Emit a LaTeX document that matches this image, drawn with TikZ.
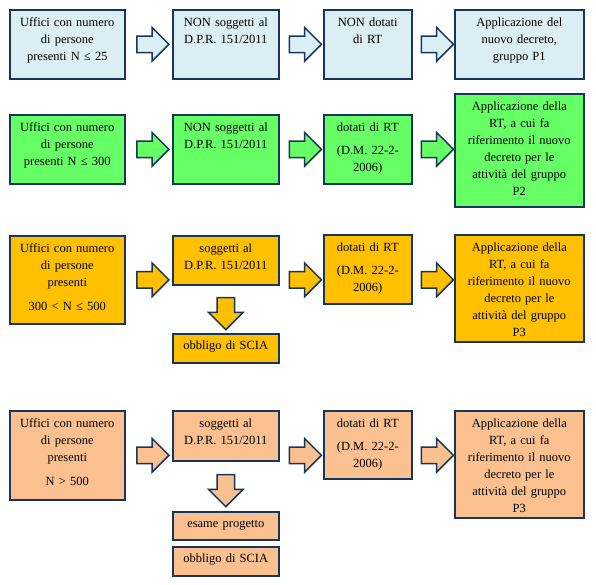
\documentclass[tikz,border=0pt]{standalone}
\usepackage{xcolor}
\usepackage{fontspec}
\setmainfont{Liberation Serif}
\usepackage{tikz}
\usetikzlibrary{calc,shapes.arrows}
\definecolor{navy}{HTML}{17365D}
\definecolor{blu}{HTML}{DBEEF4}
\definecolor{verde}{HTML}{66FF66}
\definecolor{oro}{HTML}{FFC000}
\definecolor{pesca}{HTML}{FAC090}
\tikzset{
	box/.style={
			draw=navy, line width=1.6pt, fill=#1, anchor=north west,
			align=center, inner sep=0pt, text height=16.5pt,
			font=\fontsize{12.5}{17}\selectfont
		},
	rarrow/.style={
			single arrow, draw=navy, line width=1.5pt, fill=#1,
			minimum height=32pt, inner xsep=0pt, inner ysep=7.5pt,
			single arrow head extend=8.5pt
		},
	darrow/.style={rarrow=#1, shape border rotate=270, inner xsep=8pt, inner ysep=0pt}
}

\begin{document}
\begin{tikzpicture}[x=1pt, y=-1pt]
			\useasboundingbox (0,0) rectangle (596,585);

			\node[box=blu, text width=115pt, text depth=52.5pt] (A1) at (9,9) {Uffici con numero\\ di persone\\ presenti N ≤ 25};
			\node[box=blu, text width=106pt, text depth=52.5pt] (B1) at (172,9) {NON soggetti al\\ D.P.R. 151/2011};
			\node[box=blu, text width=88pt, text depth=52.5pt] (C1) at (323,9) {NON dotati\\ di RT};
			\node[box=blu, text width=129pt, text depth=52.5pt] (D1) at (454,9) {Applicazione del\\ nuovo decreto,\\ gruppo P1};

			\node[box=verde, text width=115pt, text depth=52.5pt] (A2) at (9,114) {Uffici con numero\\ di persone\\ presenti N ≤ 300};
			\node[box=verde, text width=106pt, text depth=52.5pt] (B2) at (172,114) {NON soggetti al\\ D.P.R. 151/2011};
			\node[box=verde, text width=88pt, text depth=52.5pt] (C2) at (323,114) {dotati di RT\\[6pt] (D.M. 22-2-\\ 2006)};
			\node[box=verde, text width=129pt, text depth=96.5pt] (D2) at (454,93) {Applicazione della\\ RT, a cui fa\\ riferimento il nuovo\\ decreto per le\\ attività del gruppo\\ P2};

			\node[box=oro, text width=115pt, text depth=71.5pt] (A3) at (9,235) {Uffici con numero\\ di persone\\ presenti\\[7pt] 300 < N ≤ 500};
			\node[box=oro, text width=106pt, text depth=32.5pt] (B3) at (172,235) {soggetti al\\ D.P.R. 151/2011};
			\node[box=oro, text width=106pt, text height=16pt, text depth=13pt] (S3) at (172,333) {obbligo di SCIA};
			\node[box=oro, text width=88pt, text depth=52.5pt] (C3) at (323,234) {dotati di RT\\[6pt] (D.M. 22-2-\\ 2006)};
			\node[box=oro, text width=129pt, text depth=90.5pt] (D3) at (454,234) {Applicazione della\\ RT, a cui fa\\ riferimento il nuovo\\ decreto per le\\ attività del gruppo\\ P3};

			\node[box=pesca, text width=115pt, text depth=72.5pt] (A4) at (9,410) {Uffici con numero\\ di persone\\ presenti\\[7pt] N > 500};
			\node[box=pesca, text width=106pt, text depth=33.5pt] (B4) at (172,410) {soggetti al\\ D.P.R. 151/2011};
			\node[box=pesca, text width=106pt, text height=15.5pt, text depth=12.5pt] (E4) at (172,511) {esame progetto};
			\node[box=pesca, text width=106pt, text height=16pt, text depth=13pt] (S4) at (172,546) {obbligo di SCIA};
			\node[box=pesca, text width=88pt, text depth=51.5pt] (C4) at (323,410) {dotati di RT\\[6pt] (D.M. 22-2-\\ 2006)};
			\node[box=pesca, text width=129pt, text depth=90.5pt] (D4) at (454,410) {Applicazione della\\ RT, a cui fa\\ riferimento il nuovo\\ decreto per le\\ attività del gruppo\\ P3};

			\foreach \r/\c in {1/blu, 2/verde, 3/oro, 4/pesca} {
				\node[rarrow=\c] (AB\r) at ($(A\r.east)!.5!(B\r.west |- A\r.east)$) {};
				\node[rarrow=\c] (BC\r) at ($(B\r.east |- A\r.east)!.5!(C\r.west |- A\r.east)$) {};
				\node[rarrow=\c] (CD\r) at ($(C\r.east |- A\r.east)!.5!(D\r.west |- A\r.east)$) {};
			}

			\node[darrow=oro] (BS3) at ($(B3.south)!.5!(S3.north)$) {};
			\node[darrow=pesca] (BE4) at ($(B4.south)!.5!(E4.north)$) {};
		\end{tikzpicture}
\end{document}
